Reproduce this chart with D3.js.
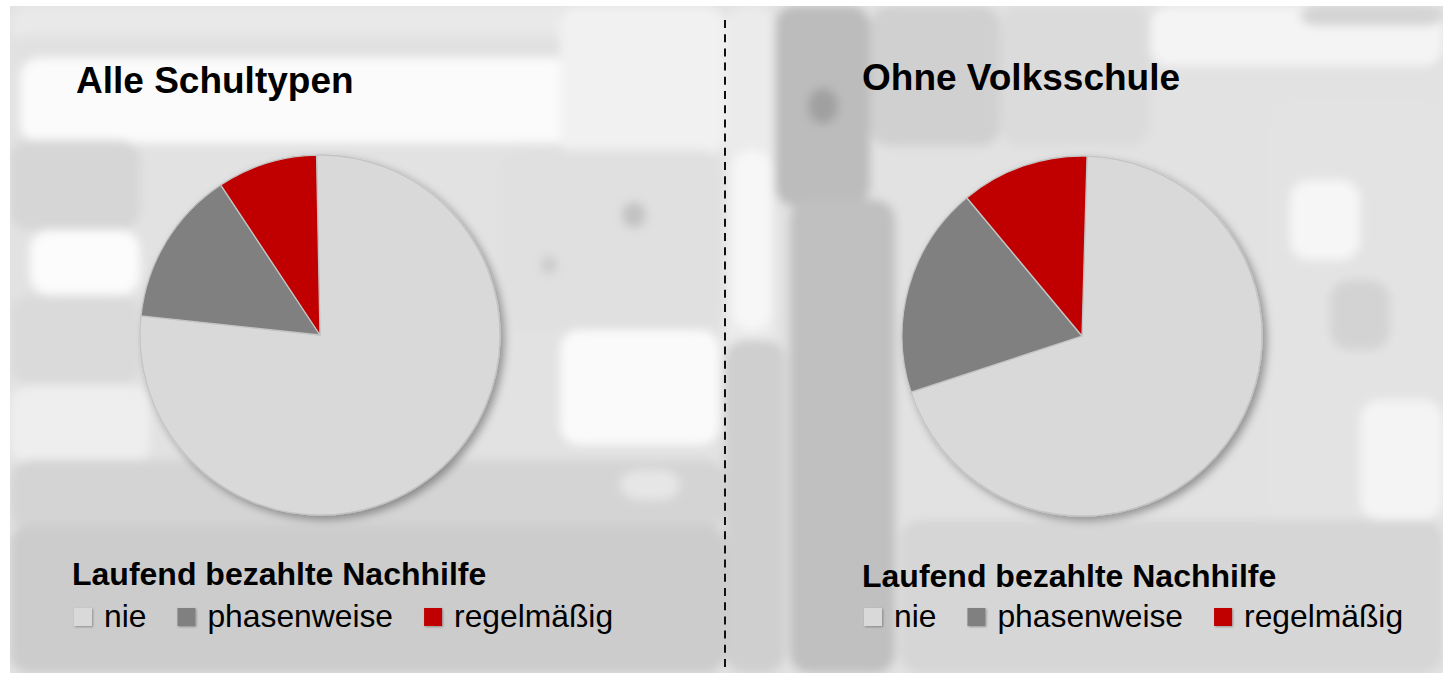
<!DOCTYPE html>
<html>
<head>
<meta charset="utf-8">
<script src="https://cdn.jsdelivr.net/npm/d3@7"></script>
<style>
  html, body { margin: 0; padding: 0; background: #fff; }
  svg { display: block; font-family: "Liberation Sans", Arial, sans-serif; }
</style>
</head>
<body>
<div id="chart"></div>
<script>
// data (percent)
const panelTitles = ['Alle Schultypen', 'Ohne Volksschule'];
const categories = ['nie', 'phasenweise', 'regelmäßig'];
const valuesAlle = [77, 14, 9];
const valuesOhne = [69.5, 19, 11.5];
const legendTitle = 'Laufend bezahlte Nachhilfe';
const sliceColors = ['#d9d9d9', '#808080', '#c00000'];

const width = 1443, height = 673;

// layout of the two panels
const panels = [
  { title: panelTitles[0], values: valuesAlle, cx: 320, cy: 335, r: 180, startDeg: -1.1,
    titleX: 76, titleY: 93, legX: 72, legY: 585 },
  { title: panelTitles[1], values: valuesOhne, cx: 1082, cy: 336, r: 180, startDeg: 1.6,
    titleX: 862, titleY: 90, legX: 862, legY: 587 }
];

// background blotches (decoration only): x, y, w, h, fill
const blotches = [
  [10, 6, 715, 40, '#e9e9e9'],
  [10, 35, 560, 25, '#e1e1e1'],
  [20, 58, 560, 85, '#fbfbfb'],
  [560, 6, 165, 150, '#f1f1f1'],
  [10, 140, 130, 90, '#d6d6d6'],
  [30, 230, 110, 65, '#fcfcfc'],
  [10, 295, 130, 90, '#dadada'],
  [10, 385, 140, 80, '#eeeeee'],
  [500, 150, 220, 180, '#e0e0e0'],
  [622, 202, 24, 26, '#c2c2c2'],
  [541, 256, 16, 18, '#cbcbcb'],
  [560, 330, 160, 115, '#fafafa'],
  [10, 460, 715, 70, '#d4d4d4'],
  [10, 525, 715, 148, '#cccccc'],
  [620, 470, 60, 30, '#e6e6e6'],
  [725, 6, 50, 667, '#ebebeb'],
  [732, 150, 40, 180, '#f7f7f7'],
  [775, 6, 95, 200, '#bcbcbc'],
  [808, 88, 30, 36, '#a0a0a0'],
  [790, 200, 105, 473, '#c0c0c0'],
  [870, 6, 130, 140, '#d0d0d0'],
  [1000, 6, 150, 140, '#dbdbdb'],
  [1150, 6, 293, 60, '#f4f4f4'],
  [1300, 6, 143, 20, '#d4d4d4'],
  [1270, 100, 173, 573, '#e3e3e3'],
  [1290, 180, 70, 80, '#f6f6f6'],
  [1360, 400, 83, 120, '#f4f4f4'],
  [1330, 280, 60, 70, '#d3d3d3'],
  [900, 520, 543, 153, '#d6d6d6'],
  [725, 340, 60, 333, '#cfcfcf']
];

const svg = d3.select('#chart').append('svg')
  .attr('width', width)
  .attr('height', height);

const defs = svg.append('defs');
defs.append('clipPath').attr('id', 'bgclip')
  .append('rect').attr('x', 10).attr('y', 6).attr('width', width - 10).attr('height', height - 6);
defs.append('filter').attr('id', 'soft')
  .attr('x', '-10%').attr('y', '-10%').attr('width', '120%').attr('height', '120%')
  .append('feGaussianBlur').attr('stdDeviation', 5);
const shadow = defs.append('filter').attr('id', 'shadow')
  .attr('x', '-20%').attr('y', '-20%').attr('width', '140%').attr('height', '140%');
shadow.append('feDropShadow')
  .attr('dx', 4).attr('dy', 4).attr('stdDeviation', 4)
  .attr('flood-color', '#000').attr('flood-opacity', 0.35);
const swShadow = defs.append('filter').attr('id', 'swshadow')
  .attr('x', '-30%').attr('y', '-30%').attr('width', '160%').attr('height', '160%');
swShadow.append('feDropShadow')
  .attr('dx', 1).attr('dy', 1).attr('stdDeviation', 1)
  .attr('flood-color', '#000').attr('flood-opacity', 0.3);

// background
const bg = svg.append('g').attr('clip-path', 'url(#bgclip)');
bg.append('rect').attr('x', 10).attr('y', 6).attr('width', width - 10).attr('height', height - 6)
  .attr('fill', '#e2e2e2');
bg.append('g').attr('filter', 'url(#soft)')
  .selectAll('rect')
  .data(blotches)
  .enter()
  .append('rect')
  .attr('x', d => d[0]).attr('y', d => d[1])
  .attr('width', d => d[2]).attr('height', d => d[3])
  .attr('rx', 20)
  .attr('fill', d => d[4]);

// dashed divider
svg.append('line')
  .attr('x1', 725).attr('x2', 725)
  .attr('y1', 20).attr('y2', height)
  .attr('stroke', '#111')
  .attr('stroke-width', 2)
  .attr('stroke-dasharray', '8 6.2');

const color = d3.scaleOrdinal().domain(categories).range(sliceColors);

panels.forEach(p => {
  const g = svg.append('g');

  g.append('text')
    .attr('x', p.titleX).attr('y', p.titleY)
    .attr('font-size', 37).attr('font-weight', 'bold')
    .attr('fill', '#000')
    .text(p.title);

  const start = p.startDeg * Math.PI / 180;
  const pie = d3.pie().sort(null).startAngle(start).endAngle(start + 2 * Math.PI);
  const arc = d3.arc().innerRadius(0).outerRadius(p.r);
  const data = categories.map((c, i) => ({ cat: c, value: p.values[i] }));

  g.append('g')
    .attr('transform', `translate(${p.cx},${p.cy})`)
    .attr('filter', 'url(#shadow)')
    .selectAll('path')
    .data(pie.value(d => d.value)(data))
    .enter()
    .append('path')
    .attr('d', arc)
    .attr('fill', d => color(d.data.cat))
    .attr('stroke', '#c4c4c4')
    .attr('stroke-width', 1.3)
    .attr('stroke-linejoin', 'round');

  // legend
  const leg = g.append('g').attr('transform', `translate(${p.legX},0)`);
  leg.append('text')
    .attr('x', 0).attr('y', p.legY)
    .attr('font-size', 32).attr('font-weight', 'bold')
    .attr('fill', '#000')
    .text(legendTitle);

  let x = 2;
  categories.forEach(c => {
    leg.append('rect')
      .attr('x', x).attr('y', 608)
      .attr('width', 18).attr('height', 18)
      .attr('fill', color(c))
      .attr('filter', 'url(#swshadow)');
    const t = leg.append('text')
      .attr('x', x + 30).attr('y', 627)
      .attr('font-size', 31.8)
      .attr('fill', '#000')
      .text(c);
    x += 30 + t.node().getComputedTextLength() + 31;
  });
});
</script>
</body>
</html>
